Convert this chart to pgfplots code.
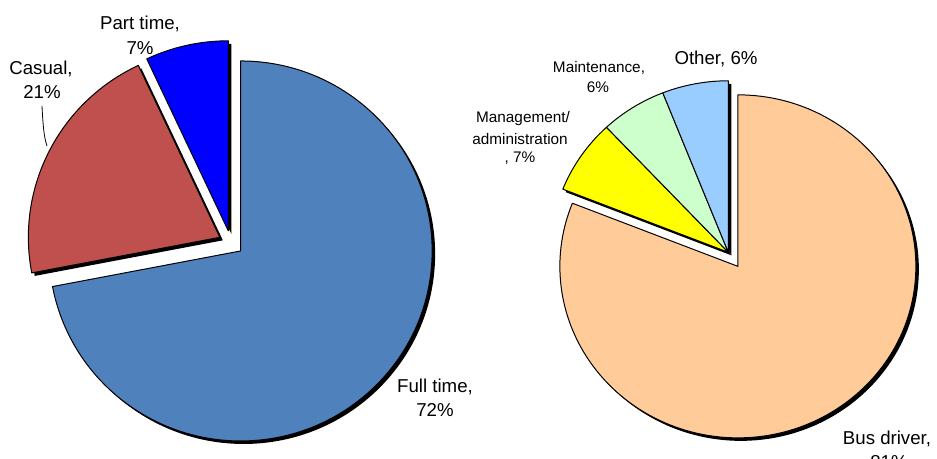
\documentclass[border=0pt]{standalone}
\usepackage{pgfplots}
\usepackage{pgfplotstable}
\pgfplotsset{compat=1.18}
\usepackage{fontspec}
\setmainfont{Liberation Sans}

\definecolor{fulltime}{RGB}{79,129,189}
\definecolor{casual}{RGB}{192,80,77}
\definecolor{parttime}{RGB}{0,0,255}
\definecolor{busdriver}{RGB}{255,204,153}
\definecolor{mgmt}{RGB}{255,255,0}
\definecolor{maint}{RGB}{204,255,204}
\definecolor{other}{RGB}{153,204,255}

\newcommand\biglabel{\fontsize{14}{16}\selectfont}
\newcommand\smalllabel{\fontsize{11.5}{13}\selectfont}

% shares in percent, explode distance (px), colour
\pgfplotstableread{
label pct explode color
FullTime 72 12.5 fulltime
Casual 21 12.5 casual
PartTime 7 12.5 parttime
}\leftpie
\pgfplotstableread{
label pct explode color
BusDriver 81 17 busdriver
Management 7 0 mgmt
Maintenance 6 0 maint
Other 6 0 other
}\rightpie

% #1 table, #2 cx, #3 cy, #4 rx, #5 ry, #6 last row, #7 shift, #8 shadow (1) or slice (0)
\newcommand\pieslices[8]{%
  \def\pieangle{90}%
  \pgfplotsforeachungrouped \i in {0,...,#6}{%
    \pgfplotstablegetelem{\i}{pct}\of{#1}\let\pct\pgfplotsretval
    \pgfplotstablegetelem{\i}{explode}\of{#1}\let\expl\pgfplotsretval
    \pgfplotstablegetelem{\i}{color}\of{#1}\let\col\pgfplotsretval
    \pgfmathsetmacro\aend{\pieangle-3.6*\pct}%
    \pgfmathsetmacro\amid{(\pieangle+\aend)/2}%
    \pgfmathsetmacro\vx{#2+\expl*cos(\amid)+#7}%
    \pgfmathsetmacro\vy{#3+\expl*sin(\amid)-#7}%
    \pgfmathsetmacro\rxpt{#4*0.75}%
    \pgfmathsetmacro\rypt{#5*0.75}%
    \ifnum#8=1 \def\sty{fill=black,draw=none}%
    \else \edef\sty{fill=\col,draw=black,line width=0.75pt,line join=round}\fi
    \edef\cmd{\noexpand\path[\sty] (axis cs:\vx,\vy) -- ++(\pieangle:\rxpt pt and \rypt pt)
      arc[start angle=\pieangle, end angle=\aend, x radius=\rxpt pt, y radius=\rypt pt] -- cycle;}%
    \cmd
    \let\pieangle\aend
  }%
}

\begin{document}
\begin{tikzpicture}
\begin{axis}[
  width=702.75pt, height=344.25pt, scale only axis,
  xmin=0, xmax=937, ymin=0, ymax=459,
  hide axis, clip=false]
  \coordinate (bl) at (axis cs:0,0);
  \coordinate (tr) at (axis cs:937,459);
  % left pie
  \pieslices{\leftpie}{231}{216}{191.5}{190}{2}{3}{1}
  \pieslices{\leftpie}{231}{216}{191.5}{190}{2}{0}{0}
  % right pie
  \pieslices{\rightpie}{728.3}{206.7}{178}{171.5}{3}{3}{1}
  \pieslices{\rightpie}{728.3}{206.7}{178}{171.5}{3}{0}{0}
  % labels, left
  \node[anchor=base, font=\biglabel] at (axis cs:140,429) {Part time,};
  \node[anchor=base, font=\biglabel] at (axis cs:140,404) {7\%};
  \node[anchor=base, font=\biglabel] at (axis cs:41,384) {Casual,};
  \node[anchor=base, font=\biglabel] at (axis cs:42,360) {21\%};
  \draw[line width=0.6pt] (axis cs:42,353) .. controls (axis cs:43,333) and (axis cs:44,322) .. (axis cs:47,313);
  \node[anchor=base, font=\biglabel] at (axis cs:435,66) {Full time,};
  \node[anchor=base, font=\biglabel] at (axis cs:435,42) {72\%};
  % labels, right
  \node[anchor=base, font=\biglabel] at (axis cs:716,394) {Other, 6\%};
  \node[anchor=base, font=\smalllabel] at (axis cs:599,386) {Maintenance,};
  \node[anchor=base, font=\smalllabel] at (axis cs:598,366) {6\%};
  \node[anchor=base, font=\smalllabel] at (axis cs:523,336) {Management/};
  \node[anchor=base, font=\smalllabel] at (axis cs:520,314) {administration};
  \node[anchor=base, font=\smalllabel] at (axis cs:520,296) {, 7\%};
  \node[anchor=base, font=\biglabel] at (axis cs:887,14) {Bus driver,};
  \node[anchor=base, font=\biglabel] at (axis cs:889,-10) {81\%};
\end{axis}
\pgfresetboundingbox
\path[use as bounding box] (bl) rectangle (tr);
\end{tikzpicture}
\end{document}
